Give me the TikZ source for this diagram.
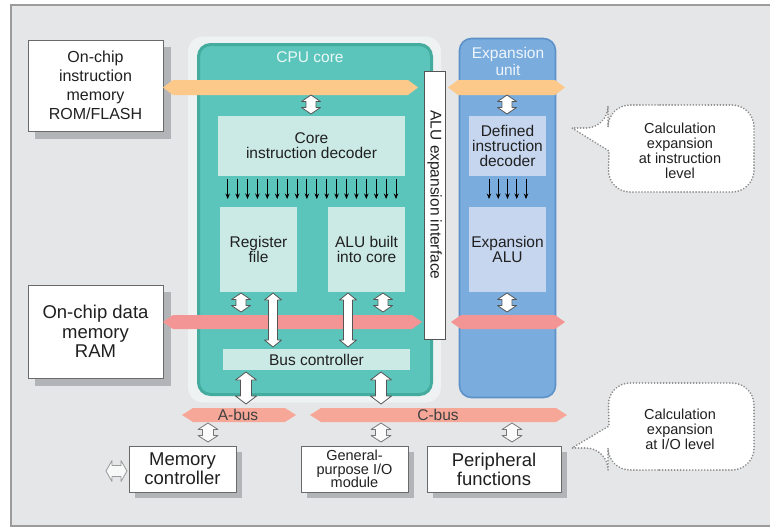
\documentclass[tikz,border=0pt]{standalone}
\usepackage{fontspec}
\setmainfont{Liberation Sans}
\usetikzlibrary{arrows.meta,calc}
\definecolor{bgc}{HTML}{E5E6E8}
\definecolor{frm}{HTML}{9C9C9C}
\definecolor{boxline}{HTML}{6A6A6A}
\definecolor{shd}{HTML}{B3B4B8}
\definecolor{txt}{HTML}{202020}
\definecolor{glowc}{HTML}{EEF2F2}
\definecolor{tealc}{HTML}{5BC5BB}
\definecolor{tealrim}{HTML}{44AB9F}
\definecolor{tealbox}{HTML}{CBEAE6}
\definecolor{bluc}{HTML}{7AADDE}
\definecolor{blurim}{HTML}{5C91C9}
\definecolor{blubox}{HTML}{C6D6EF}
\definecolor{orng}{HTML}{FCC98B}
\definecolor{pnk}{HTML}{F39595}
\definecolor{slmn}{HTML}{F7A797}
\definecolor{arline}{HTML}{555555}
\definecolor{calline}{HTML}{8A8A8A}

\newcommand\vdarr[6][dblarr]{\path[#1] let \p1=#2, \p2=#3 in (\x1,\y1) -- (\x1+#5pt,\y1-#6pt) -- (\x1+#4pt,\y1-#6pt) -- (\x1+#4pt,\y2+#6pt) -- (\x1+#5pt,\y2+#6pt) -- (\x1,\y2) -- (\x1-#5pt,\y2+#6pt) -- (\x1-#4pt,\y2+#6pt) -- (\x1-#4pt,\y1-#6pt) -- (\x1-#5pt,\y1-#6pt) -- cycle;}
\newcommand\hdarr[6][dblarr]{\path[#1] let \p1=#2, \p2=#3 in (\x1,\y1) -- (\x1+#6pt,\y1+#5pt) -- (\x1+#6pt,\y1+#4pt) -- (\x2-#6pt,\y1+#4pt) -- (\x2-#6pt,\y1+#5pt) -- (\x2,\y1) -- (\x2-#6pt,\y1-#5pt) -- (\x2-#6pt,\y1-#4pt) -- (\x1+#6pt,\y1-#4pt) -- (\x1+#6pt,\y1-#5pt) -- cycle;}
\newcommand\busbar[6]{\fill[#6] (#1,#3) -- (#1+#5,#3-#4) -- (#2-#5,#3-#4) -- (#2,#3) -- (#2-#5,#3+#4) -- (#1+#5,#3+#4) -- cycle;}

\tikzset{
  shadowbox/.style={fill=shd},
  wbox/.style={draw=boxline, fill=white, line width=0.9pt, inner sep=0pt, align=center, text=txt},
  tbox/.style={fill=tealbox, inner sep=0pt, align=center, text=txt, font=\fsM},
  bbox/.style={fill=blubox, inner sep=0pt, align=center, text=txt, font=\fsM},
  dblarr/.style={fill=white, draw=arline, line width=0.8pt, line join=round},
  lowarr/.style={fill=white!85!bgc, draw=arline!80, line width=0.8pt, line join=round},
  sidearr/.style={fill=white!70!bgc, draw=black!40, line width=0.8pt, line join=round},
  decarr/.style={line width=0.9pt, -{Stealth[length=5.5pt,width=4.5pt]}},
  callout/.style={fill=white, draw=calline, line width=1.9pt, dash pattern=on 0.01pt off 3pt, line cap=round},
  calltext/.style={align=center, text=txt, font=\fsC},
}
\newcommand\fsM{\fontsize{15.5}{15}\selectfont}
\newcommand\fsC{\fontsize{14.5}{15}\selectfont}

\begin{document}
\begin{tikzpicture}[x=1pt,y=-1pt]
\useasboundingbox (0,0) rectangle (770,528);
\fill[white] (0,0) rectangle (770,528);
\fill[bgc] (11,5) rectangle (770,526);
\draw[frm, line width=1.2pt] (770,5) -- (11,5) -- (11,526) -- (770,526);

% shadows of the white boxes
\fill[shadowbox] (35,47) rectangle (171,139);
\fill[shadowbox] (35,292) rectangle (171,386);
\fill[shadowbox] (135,452) rectangle (242,498);
\fill[shadowbox] (307,452) rectangle (414,498);
\fill[shadowbox] (433,452) rectangle (567,498);

% memories
\node[wbox, minimum width=135, minimum height=91, font=\fontsize{16}{19}\selectfont] (rom) at (95.5,85.5) {On-chip\\instruction\\memory\\ROM/FLASH};
\node[wbox, minimum width=135, minimum height=93, font=\fontsize{18.5}{19.5}\selectfont] (ram) at (95.5,331.5) {On-chip data\\memory\\RAM};

% CPU core
\node[fill=glowc, rounded corners=15pt, minimum width=253, minimum height=366, inner sep=0pt] (cpuglow) at (314.5,219.5) {};
\node[fill=tealc, draw=tealrim, line width=3pt, rounded corners=12pt, minimum width=233, minimum height=350, inner sep=0pt] (cpu) at (315,219.5) {};
\node[text=white!88!tealc, font=\fsM] (cpulbl) at (310,57) {CPU core};

% Expansion unit
\node[fill=bluc, draw=blurim, line width=1.6pt, rounded corners=12pt, minimum width=96, minimum height=359, inner sep=0pt] (exp) at (507.5,218) {};
\node[text=white!88!bluc, align=center, font=\fontsize{15.5}{16.5}\selectfont] (explbl) at (508,61.5) {Expansion\\unit};

% ALU expansion interface
\node[draw=arline, fill=white, line width=0.9pt, minimum width=21, minimum height=268, inner sep=0pt] (aluif) at (434.5,205) {};
\node[rotate=-90, text=txt, font=\fsM] (aluiflbl) at (434.5,195) {ALU expansion interface};

% buses
\busbar{163}{418}{87.5}{7.5}{10}{orng}
\busbar{448}{565}{87.5}{7.5}{10}{orng}
\busbar{163}{422}{322}{7}{10}{pnk}
\busbar{451}{565}{322}{7}{10}{pnk}
\busbar{182}{296}{415}{7}{11}{slmn}
\busbar{310}{567}{415}{7}{11}{slmn}
\node[text=black!75, font=\fsM] (abus) at (238,415) {A-bus};
\node[text=black!75, font=\fsM] (cbus) at (438,415) {C-bus};

% inner blocks
\node[tbox, minimum width=187, minimum height=60] (dec) at (311.5,146) {Core\\instruction decoder};
\node[tbox, minimum width=77, minimum height=85] (reg) at (258.5,249.5) {Register\\file};
\node[tbox, minimum width=77, minimum height=85] (alu) at (366.5,249.5) {ALU built\\into core};
\node[tbox, minimum width=187, minimum height=21] (busc) at (316.5,359.5) {Bus controller};
\node[bbox, minimum width=77, minimum height=60] (ddec) at (507.5,146) {Defined\\instruction\\decoder};
\node[bbox, minimum width=77, minimum height=85] (ealu) at (507.5,249.5) {Expansion\\ALU};

% decoder arrows
\foreach \i in {0,...,17} \draw[decarr] ({227.7+\i*9.9},178.5) -- ({227.7+\i*9.9},199);
\foreach \i in {0,...,4} \draw[decarr] ({489+\i*9.25},178.5) -- ({489+\i*9.25},199);

% double arrows in cores
\vdarr{(311,95)}{(311,114)}{5}{9.5}{6.5}
\vdarr{(507,95)}{(507,114)}{5}{9.5}{6.5}
\vdarr{(241,293)}{(241,312)}{5}{9.5}{6.5}
\vdarr{(383,293)}{(383,312)}{5}{9.5}{6.5}
\vdarr{(507,293)}{(507,312)}{5}{9.5}{6.5}
\vdarr{(273,293)}{(273,347)}{4.5}{8.5}{7}
\vdarr{(348,293)}{(348,347)}{4.5}{8.5}{7}
\vdarr{(246,372)}{(246,404)}{5.5}{10.5}{8}
\vdarr{(381,372)}{(381,404)}{5.5}{10.5}{8}

% bottom double arrows
\vdarr[lowarr]{(208,423)}{(208,442)}{5.5}{10}{6.5}
\vdarr[lowarr]{(381,423)}{(381,442)}{5.5}{10}{6.5}
\vdarr[lowarr]{(512,423)}{(512,442)}{5.5}{10}{6.5}
\hdarr[sidearr]{(106,471)}{(127,471)}{5.5}{10.5}{6}

% peripherals
\node[wbox, minimum width=107, minimum height=46, font=\fontsize{18.5}{19}\selectfont] (memc) at (182.5,469) {Memory\\controller};
\node[wbox, minimum width=107, minimum height=46, font=\fontsize{14.5}{13.8}\selectfont] (gpio) at (354.5,469) {General-\\purpose I/O\\module};
\node[wbox, minimum width=134, minimum height=46, font=\fontsize{18.5}{19}\selectfont] (peri) at (494,469) {Peripheral\\functions};

% callouts
\draw[callout] (680,105) [rounded corners=22pt] -- (608,105) -- (608,128) [sharp corners] -- (572,128) -- (609,151) [rounded corners=22pt] -- (608,192) -- (754,192) -- (754,105) -- cycle;
\node[calltext] (call1) at (680,150.5) {Calculation\\expansion\\at instruction\\level};
\draw[callout] (680,470) [rounded corners=22pt] -- (608,470) -- (608,448) [sharp corners] -- (572,448) -- (609,426) [rounded corners=22pt] -- (608,383) -- (754,383) -- (754,470) -- cycle;
\node[calltext] (call2) at (680,429) {Calculation\\expansion\\at I/O level};
\end{tikzpicture}
\end{document}
